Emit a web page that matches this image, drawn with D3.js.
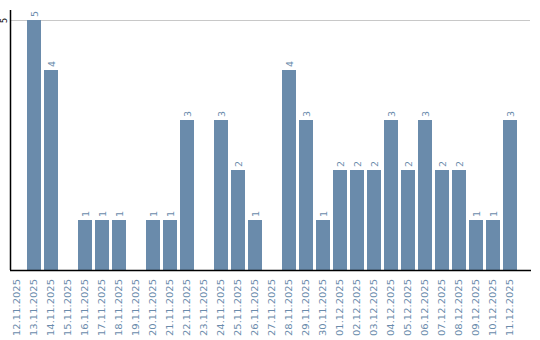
<!DOCTYPE html>
<html>
<head>
<meta charset="utf-8">
<script src="https://cdn.jsdelivr.net/npm/d3@7"></script>
<style>
  body { margin: 0; background: #fff; }
  svg { display: block; font-family: "DejaVu Sans", Verdana, sans-serif; }
</style>
</head>
<body>
<div id="container"></div>
<script>
const dates = [
  "12.11.2025", "13.11.2025", "14.11.2025", "15.11.2025", "16.11.2025",
  "17.11.2025", "18.11.2025", "19.11.2025", "20.11.2025", "21.11.2025",
  "22.11.2025", "23.11.2025", "24.11.2025", "25.11.2025", "26.11.2025",
  "27.11.2025", "28.11.2025", "29.11.2025", "30.11.2025", "01.12.2025",
  "02.12.2025", "03.12.2025", "04.12.2025", "05.12.2025", "06.12.2025",
  "07.12.2025", "08.12.2025", "09.12.2025", "10.12.2025", "11.12.2025"
];
const counts = [0, 5, 4, 0, 1, 1, 1, 0, 1, 1, 3, 0, 3, 2, 1, 0, 4, 3, 1, 2, 2, 2, 3, 2, 3, 2, 2, 1, 1, 3];
const yTicks = [5];

const totalWidth = 540;
const totalHeight = 340;
const plot = { left: 10, right: 531, top: 10, bottom: 270 };

const data = dates.map((d, i) => ({ date: d, value: counts[i] }));

const xScale = d3.scaleBand()
  .domain(dates)
  .range([plot.left, 517])
  .paddingInner(3 / 17)
  .paddingOuter(0);

const yScale = d3.scaleLinear()
  .domain([0, 5.2])
  .range([plot.bottom, plot.top]);

const svg = d3.select("#container")
  .append("svg")
  .attr("width", totalWidth)
  .attr("height", totalHeight);

// Grid lines
svg.append("g")
  .selectAll("line")
  .data(yTicks)
  .enter()
  .append("line")
  .attr("x1", plot.left)
  .attr("x2", plot.right - 1)
  .attr("y1", d => Math.round(yScale(d)) + 0.5)
  .attr("y2", d => Math.round(yScale(d)) + 0.5)
  .attr("stroke", "#c8c8c8")
  .attr("stroke-width", 1);

// Bars
svg.append("g")
  .selectAll("rect")
  .data(data.filter(d => d.value > 0))
  .enter()
  .append("rect")
  .attr("x", d => xScale(d.date))
  .attr("y", d => yScale(d.value))
  .attr("width", xScale.bandwidth())
  .attr("height", d => plot.bottom - yScale(d.value))
  .attr("fill", "#6a8bab");

// Value labels
svg.append("g")
  .selectAll("text")
  .data(data.filter(d => d.value > 0))
  .enter()
  .append("text")
  .attr("transform", d => `translate(${xScale(d.date) + xScale.bandwidth() / 2 + 3.5},${yScale(d.value) - 3}) rotate(-90)`)
  .attr("text-anchor", "start")
  .attr("font-size", "9.5px")
  .attr("fill", "#6a8bab")
  .text(d => d.value);

// X axis
const xAxis = svg.append("g")
  .attr("transform", `translate(0,${plot.bottom})`)
  .call(d3.axisBottom(xScale).tickSize(0).tickPadding(0));

xAxis.select(".domain")
  .attr("d", `M${plot.left},0.5H${plot.right}`)
  .attr("stroke", "#000")
  .attr("stroke-width", 1.5);

xAxis.selectAll(".tick text")
  .attr("transform", "translate(2.5,9) rotate(-90)")
  .attr("text-anchor", "end")
  .attr("dy", 0)
  .attr("y", 0)
  .attr("x", 0)
  .attr("font-size", "8.5px")
  .attr("textLength", 57)
  .attr("lengthAdjust", "spacingAndGlyphs")
  .attr("font-family", "DejaVu Sans, sans-serif")
  .attr("fill", "#6a8bab");

// Y axis
const yAxis = svg.append("g")
  .attr("transform", `translate(${plot.left},0)`)
  .call(d3.axisLeft(yScale).tickValues(yTicks).tickFormat(d3.format("d")).tickSize(0).tickPadding(0));

yAxis.select(".domain")
  .attr("d", `M0.5,${plot.top}V${plot.bottom}`)
  .attr("stroke", "#000")
  .attr("stroke-width", 1.5);

yAxis.selectAll(".tick text")
  .attr("transform", "translate(-3,0) rotate(-90)")
  .attr("text-anchor", "middle")
  .attr("x", 0)
  .attr("y", 0)
  .attr("dy", 0)
  .attr("font-size", "8px")
  .attr("font-family", "DejaVu Sans, sans-serif")
  .attr("fill", "#000");
</script>
</body>
</html>
